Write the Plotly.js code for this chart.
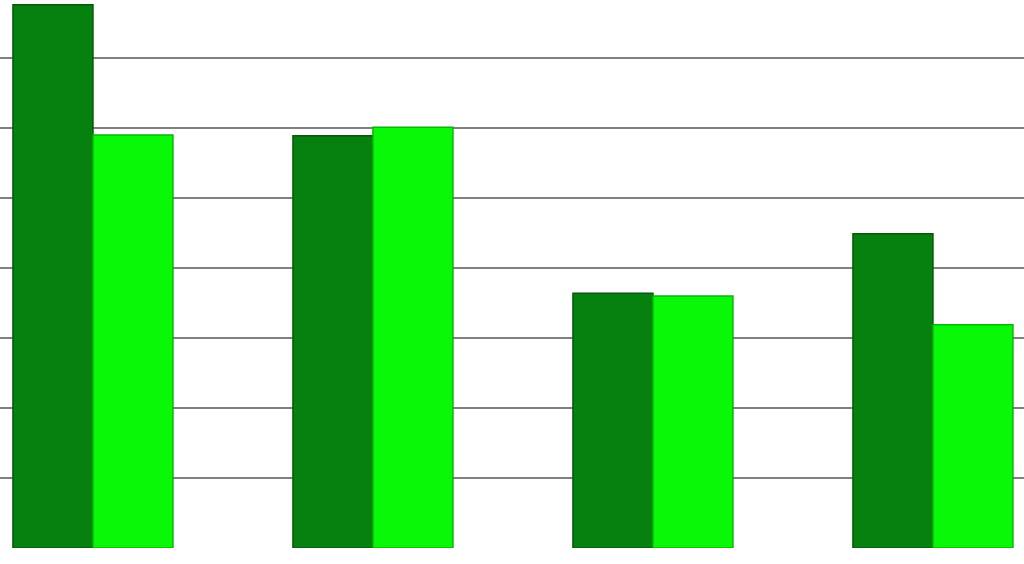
<!DOCTYPE html>
<html>
<head>
<meta charset="utf-8">
<script src="https://cdn.plot.ly/plotly-3.0.1.min.js"></script>
<style>
  html, body { margin: 0; padding: 0; background: #fff; }
  #graph { width: 1024px; height: 564px; }
</style>
</head>
<body>
<div id="graph"></div>
<script>
const categories = ['A', 'B', 'C', 'D'];
const seriesDark = [7.76, 5.89, 3.64, 4.49];
const seriesLight = [5.90, 6.01, 3.60, 3.19];
const gridValues = [1, 2, 3, 4, 5, 6, 7];

plot();

function plot() {
  const dark = {
    x: categories,
    y: seriesDark,
    type: 'bar',
    name: 'Series 1',
    marker: { color: '#06800E', line: { color: '#035A08', width: 1.5 } }
  };
  const light = {
    x: categories,
    y: seriesLight,
    type: 'bar',
    name: 'Series 2',
    marker: { color: '#08F808', line: { color: '#06B806', width: 1.5 } }
  };

  const layout = {
    width: 1024,
    height: 564,
    margin: { l: 0, r: 0, t: 0, b: 16, pad: 0 },
    paper_bgcolor: '#ffffff',
    plot_bgcolor: '#ffffff',
    showlegend: false,
    barmode: 'group',
    bargap: 0.4286,
    bargroupgap: 0,
    xaxis: {
      range: [-0.332, 3.3252],
      showticklabels: false,
      showgrid: false,
      zeroline: false,
      showline: false,
      ticks: ''
    },
    yaxis: {
      range: [0, 7.829],
      tickvals: gridValues,
      showticklabels: false,
      showgrid: true,
      gridcolor: '#808080',
      gridwidth: 1.6,
      zeroline: false,
      showline: false,
      ticks: ''
    }
  };
  Plotly.newPlot('graph', [dark, light], layout, { displayModeBar: false, staticPlot: true });
}
</script>
</body>
</html>
